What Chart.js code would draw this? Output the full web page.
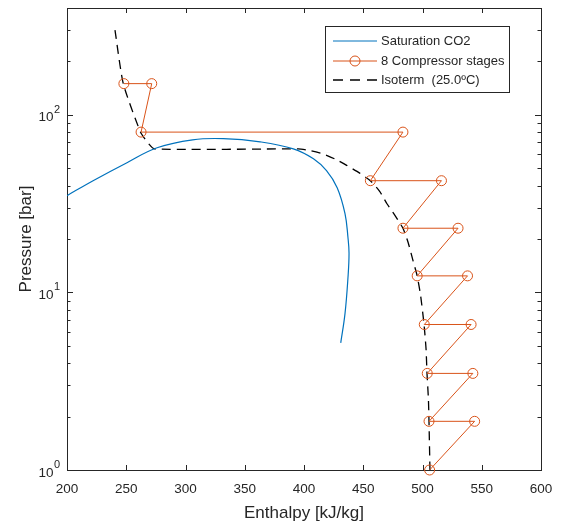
<!DOCTYPE html>
<html>
<head>
<meta charset="utf-8">
<script src="https://cdn.jsdelivr.net/npm/chart.js@4.4.0/dist/chart.umd.min.js"></script>
<style>
  html, body { margin: 0; padding: 0; background: #fff; }
</style>
</head>
<body>
<canvas id="phChart" width="561" height="527"></canvas>
<script>
// Saturation curve of CO2 (enthalpy kJ/kg, pressure bar)
const satH = [200, 222, 250.6, 276, 306, 332, 363, 391, 408, 419, 428, 434.6, 437.1, 438, 437.1, 434.6, 431];
const satP = [35.1, 42.6, 53.8, 65.3, 72.4, 73.5, 70.5, 64.4, 56.6, 48.5, 38.9, 27.8, 20.4, 16.6, 12.1, 7.6, 5.2];

// Compressor stages (compress, then cool back to the isotherm)
const stageH = [506, 544, 505.5, 542.5, 504, 541, 501.5, 538, 495.5, 530, 483.5, 516, 456, 483.5, 262.5, 271.5, 248];
const stageP = [1.0, 1.88, 1.88, 3.5, 3.5, 6.6, 6.6, 12.4, 12.4, 23, 23, 42.6, 42.6, 80, 80, 150, 150];

// Isotherm 25 degC
const isoH = [240.5, 247.5, 262, 268, 274, 395, 405, 416, 426, 436, 447, 456, 464, 470, 477, 483.5, 488, 492, 495.5, 498.5, 501.3, 503, 503.8, 505, 505.5, 506.3];
const isoP = [300, 150, 80, 70, 64.3, 64.3, 63, 60.3, 56.5, 52, 47, 42.6, 37, 31.6, 27, 23, 19, 15.1, 12.4, 9.5, 6.6, 4.8, 3.5, 2.5, 1.85, 1.0];

const xTicks = [200, 250, 300, 350, 400, 450, 500, 550, 600];
const yTickValues = [1, 10, 100];
const yTickExp = ['0', '1', '2'];

const seriesLabels = ['Saturation CO2', '8 Compressor stages', 'Isoterm  (25.0\u00BAC)'];

const BLUE = '#0072BD';
const ORANGE = '#D95319';
const AXIS = '#262626';
const FONT = '"Liberation Sans", Arial, sans-serif';

const toPoints = (xs, ys) => xs.map((x, i) => ({ x: x, y: ys[i] }));

// axis box, inward ticks, y labels with exponents, legend
const axesDecor = {
  id: 'axesDecor',
  beforeDatasetsDraw(chart) {
    const { ctx, chartArea: a, scales: { x, y } } = chart;
    ctx.save();
    ctx.strokeStyle = AXIS;
    ctx.lineWidth = 1;
    ctx.beginPath();
    // x ticks bottom and top
    xTicks.forEach(v => {
      const px = Math.round(x.getPixelForValue(v)) + 0.5;
      ctx.moveTo(px, a.bottom); ctx.lineTo(px, a.bottom - 5);
      ctx.moveTo(px, a.top); ctx.lineTo(px, a.top + 5);
    });
    // y ticks left and right (log minor ticks)
    for (let d = 0; d < 3; d++) {
      for (let m = 1; m <= 9; m++) {
        const v = m * Math.pow(10, d);
        if (v > y.max) break;
        const py = Math.round(y.getPixelForValue(v)) + 0.5;
        const len = m === 1 ? 6 : 3.5;
        ctx.moveTo(a.left, py); ctx.lineTo(a.left + len, py);
        ctx.moveTo(a.right, py); ctx.lineTo(a.right - len, py);
      }
    }
    ctx.stroke();
    ctx.strokeRect(Math.round(a.left) + 0.5, Math.round(a.top) + 0.5,
      Math.round(a.right - a.left), Math.round(a.bottom - a.top));

    // y tick labels 10^n
    ctx.fillStyle = AXIS;
    ctx.textBaseline = 'alphabetic';
    yTickValues.forEach((v, i) => {
      const py = y.getPixelForValue(v);
      ctx.font = '13.5px ' + FONT;
      ctx.textAlign = 'right';
      ctx.fillText('10', a.left - 13.5, py + 6.5);
      ctx.font = '11px ' + FONT;
      ctx.textAlign = 'left';
      ctx.fillText(yTickExp[i], a.left - 13, py - 2);
    });
    ctx.restore();
  },
  afterDraw(chart) {
    const { ctx } = chart;
    const box = { x: 325.5, y: 26.5, w: 184, h: 66 };
    ctx.save();
    ctx.fillStyle = '#fff';
    ctx.fillRect(box.x, box.y, box.w, box.h);
    ctx.strokeStyle = AXIS;
    ctx.lineWidth = 1;
    ctx.strokeRect(box.x, box.y, box.w, box.h);

    const rows = [41, 61, 80];
    const x0 = 333, x1 = 377;
    // blue line
    ctx.strokeStyle = BLUE;
    ctx.beginPath(); ctx.moveTo(x0, rows[0]); ctx.lineTo(x1, rows[0]); ctx.stroke();
    // orange line with circle
    ctx.strokeStyle = ORANGE;
    ctx.beginPath(); ctx.moveTo(x0, rows[1]); ctx.lineTo(x1, rows[1]); ctx.stroke();
    ctx.beginPath(); ctx.arc(355, rows[1], 5, 0, Math.PI * 2); ctx.stroke();
    // dashed black
    ctx.strokeStyle = '#000';
    ctx.lineWidth = 1.3;
    ctx.setLineDash([10, 7]);
    ctx.beginPath(); ctx.moveTo(x0, rows[2]); ctx.lineTo(x1, rows[2]); ctx.stroke();
    ctx.setLineDash([]);

    ctx.fillStyle = AXIS;
    ctx.font = '13px ' + FONT;
    ctx.textAlign = 'left';
    ctx.textBaseline = 'middle';
    seriesLabels.forEach((t, i) => ctx.fillText(t, 381, rows[i] + 0.5));
    ctx.restore();
  }
};

const chart = new Chart(document.getElementById('phChart'), {
  type: 'scatter',
  data: {
    datasets: [
      {
        label: seriesLabels[0],
        data: toPoints(satH, satP),
        showLine: true,
        borderColor: BLUE,
        borderWidth: 1.2,
        pointRadius: 0,
        tension: 0.4
      },
      {
        label: seriesLabels[1],
        data: toPoints(stageH, stageP),
        showLine: true,
        borderColor: ORANGE,
        borderWidth: 1,
        pointRadius: 5,
        pointStyle: 'circle',
        pointBorderColor: ORANGE,
        pointBackgroundColor: 'rgba(0,0,0,0)',
        pointBorderWidth: 1,
        tension: 0,
        clip: false
      },
      {
        label: seriesLabels[2],
        data: toPoints(isoH, isoP),
        showLine: true,
        borderColor: '#000',
        borderWidth: 1.3,
        borderDash: [9, 6],
        pointRadius: 0,
        tension: 0.2
      }
    ]
  },
  options: {
    responsive: false,
    animation: false,
    events: [],
    layout: { padding: { left: 0, right: 20, top: 8, bottom: 0 } },
    plugins: {
      legend: { display: false },
      tooltip: { enabled: false }
    },
    scales: {
      x: {
        type: 'linear',
        min: 200,
        max: 600,
        afterBuildTicks: scale => { scale.ticks = xTicks.map(v => ({ value: v })); },
        afterFit: scale => { scale.height = 57; },
        grid: { display: false },
        border: { display: false },
        ticks: {
          color: AXIS,
          font: { family: FONT, size: 13.5 },
          padding: 3,
          maxRotation: 0,
          autoSkip: false
        },
        title: {
          display: true,
          text: 'Enthalpy [kJ/kg]',
          color: AXIS,
          font: { family: FONT, size: 17 },
          padding: { top: 0, bottom: 3 }
        }
      },
      y: {
        type: 'logarithmic',
        min: 1,
        max: 400,
        afterFit: scale => { scale.width = 67; },
        grid: { display: false },
        border: { display: false },
        ticks: { display: false },
        title: {
          display: true,
          text: 'Pressure [bar]',
          color: AXIS,
          font: { family: FONT, size: 17 },
          padding: { top: 16, bottom: 0 }
        }
      }
    }
  },
  plugins: [axesDecor]
});
</script>
</body>
</html>
